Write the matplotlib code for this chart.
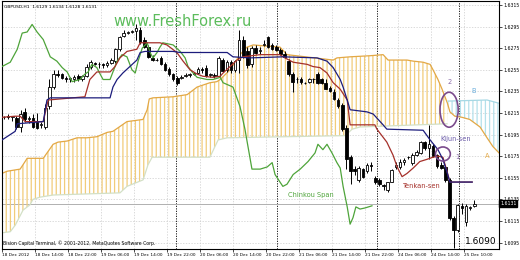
import numpy as np
import matplotlib
matplotlib.use("Agg")
from matplotlib import pyplot as plt
from matplotlib.patches import Ellipse
from matplotlib.transforms import blended_transform_factory

# --- GBPUSD H1 candles (bar index 0 = 18 Dec 2012) ---
opens = [1.6211, 1.6212, 1.6211, 1.6210, 1.6202, 1.6216, 1.6209, 1.6210, 1.6207, 1.6204,
         1.6202, 1.6221, 1.6239, 1.6251, 1.6251, 1.6247, 1.6246, 1.6246, 1.6249, 1.6246,
         1.6249, 1.6258, 1.6261, 1.6260, 1.6260, 1.6259, 1.6261, 1.6263, 1.6274, 1.6286,
         1.6289, 1.6290, 1.6291, 1.6292, 1.6283, 1.6276, 1.6266, 1.6264, 1.6266, 1.6260,
         1.6256, 1.6251, 1.6247, 1.6247, 1.6249, 1.6250, 1.6251, 1.6252, 1.6256, 1.6257,
         1.6250, 1.6250, 1.6249, 1.6264, 1.6255, 1.6262, 1.6255, 1.6264, 1.6283, 1.6272,
         1.6260, 1.6275, 1.6272, 1.6278, 1.6285, 1.6278, 1.6276, 1.6273, 1.6270, 1.6263,
         1.6251, 1.6246, 1.6246, 1.6243, 1.6244, 1.6246, 1.6251, 1.6246, 1.6243, 1.6238,
         1.6234, 1.6227, 1.6222, 1.6201, 1.6174, 1.6163, 1.6153, 1.6163, 1.6161, 1.6167,
         1.6155, 1.6153, 1.6148, 1.6144, 1.6151, 1.6165, 1.6165, 1.6170, 1.6174, 1.6169,
         1.6176, 1.6178, 1.6188, 1.6183, 1.6184, 1.6176, 1.6167, 1.6165, 1.6153, 1.6118,
         1.6107, 1.6129, 1.6114, 1.6127, 1.6129]
highs = [1.6212, 1.6214, 1.6212, 1.6212, 1.6218, 1.6220, 1.6212, 1.6214, 1.6215, 1.6207,
         1.6223, 1.6246, 1.6255, 1.6255, 1.6252, 1.6249, 1.6248, 1.6250, 1.6251, 1.6250,
         1.6260, 1.6264, 1.6262, 1.6262, 1.6261, 1.6263, 1.6266, 1.6275, 1.6286, 1.6292,
         1.6291, 1.6292, 1.6297, 1.6295, 1.6285, 1.6278, 1.6269, 1.6266, 1.6268, 1.6262,
         1.6258, 1.6252, 1.6249, 1.6250, 1.6252, 1.6252, 1.6253, 1.6258, 1.6258, 1.6259,
         1.6252, 1.6252, 1.6268, 1.6266, 1.6264, 1.6264, 1.6264, 1.6292, 1.6286, 1.6276,
         1.6277, 1.6278, 1.6276, 1.6283, 1.6286, 1.6280, 1.6278, 1.6275, 1.6272, 1.6265,
         1.6253, 1.6248, 1.6248, 1.6244, 1.6247, 1.6247, 1.6253, 1.6247, 1.6246, 1.6240,
         1.6237, 1.6229, 1.6224, 1.6204, 1.6176, 1.6166, 1.6166, 1.6164, 1.6169, 1.6170,
         1.6157, 1.6155, 1.6149, 1.6151, 1.6163, 1.6170, 1.6172, 1.6173, 1.6175, 1.6178,
         1.6181, 1.6189, 1.6189, 1.6204, 1.6186, 1.6177, 1.6170, 1.6167, 1.6155, 1.6120,
         1.6131, 1.6132, 1.6131, 1.6129, 1.6134]
lows = [1.6209, 1.6209, 1.6208, 1.6200, 1.6197, 1.6207, 1.6206, 1.6201, 1.6200, 1.6201,
        1.6200, 1.6219, 1.6237, 1.6248, 1.6246, 1.6244, 1.6244, 1.6244, 1.6245, 1.6245,
        1.6248, 1.6256, 1.6259, 1.6257, 1.6257, 1.6258, 1.6260, 1.6261, 1.6272, 1.6285,
        1.6288, 1.6289, 1.6283, 1.6279, 1.6275, 1.6266, 1.6263, 1.6263, 1.6259, 1.6254,
        1.6249, 1.6245, 1.6241, 1.6246, 1.6248, 1.6248, 1.6250, 1.6251, 1.6252, 1.6248,
        1.6248, 1.6247, 1.6248, 1.6253, 1.6253, 1.6252, 1.6253, 1.6252, 1.6266, 1.6257,
        1.6258, 1.6270, 1.6270, 1.6277, 1.6275, 1.6273, 1.6272, 1.6269, 1.6266, 1.6249,
        1.6234, 1.6243, 1.6242, 1.6242, 1.6243, 1.6243, 1.6242, 1.6242, 1.6237, 1.6234,
        1.6227, 1.6220, 1.6198, 1.6163, 1.6149, 1.6158, 1.6151, 1.6155, 1.6159, 1.6161,
        1.6149, 1.6147, 1.6144, 1.6142, 1.6151, 1.6163, 1.6163, 1.6167, 1.6172, 1.6167,
        1.6175, 1.6177, 1.6181, 1.6172, 1.6174, 1.6164, 1.6163, 1.6151, 1.6116, 1.6090,
        1.6105, 1.6121, 1.6110, 1.6125, 1.6128]
closes = [1.6211, 1.6211, 1.6212, 1.6202, 1.6214, 1.6209, 1.6210, 1.6202, 1.6201, 1.6205,
          1.6220, 1.6239, 1.6251, 1.6250, 1.6247, 1.6246, 1.6247, 1.6248, 1.6246, 1.6249,
          1.6258, 1.6262, 1.6260, 1.6260, 1.6259, 1.6261, 1.6264, 1.6274, 1.6285, 1.6289,
          1.6290, 1.6291, 1.6294, 1.6281, 1.6276, 1.6267, 1.6264, 1.6264, 1.6260, 1.6255,
          1.6251, 1.6246, 1.6243, 1.6248, 1.6250, 1.6251, 1.6252, 1.6256, 1.6255, 1.6249,
          1.6251, 1.6249, 1.6266, 1.6254, 1.6262, 1.6255, 1.6263, 1.6283, 1.6268, 1.6259,
          1.6275, 1.6271, 1.6273, 1.6279, 1.6276, 1.6274, 1.6273, 1.6270, 1.6267, 1.6251,
          1.6244, 1.6246, 1.6244, 1.6243, 1.6246, 1.6246, 1.6243, 1.6243, 1.6237, 1.6235,
          1.6228, 1.6221, 1.6200, 1.6172, 1.6161, 1.6161, 1.6164, 1.6156, 1.6167, 1.6166,
          1.6151, 1.6149, 1.6147, 1.6151, 1.6162, 1.6167, 1.6170, 1.6171, 1.6174, 1.6176,
          1.6179, 1.6188, 1.6183, 1.6186, 1.6175, 1.6166, 1.6164, 1.6153, 1.6118, 1.6107,
          1.6130, 1.6127, 1.6129, 1.6128, 1.6131]

# --- Ichimoku lines, read as (bar, price) vertices ---
tenkan_x = [-0.5, 2.7, 3.9, 5.1, 9.5, 10.7, 19.6, 20.8, 22.5, 25.7, 26.9, 28.1, 29.8, 32.2,
            33.0, 37.8, 39.5, 41.9, 43.4, 45.1, 46.8, 48.2, 50.7, 52.4, 53.1, 54.8, 56.5,
            57.9, 62.1, 66.9, 68.1, 70.1, 73.5, 74.9, 76.6, 78.3, 79.8, 81.5, 83.2, 83.9,
            89.9, 90.4, 92.8, 94.3, 95.3, 96.5, 97.7, 99.2, 100.8, 102.5, 104.0, 105.2,
            106.4, 107.4, 108.1, 113.5]
tenkan = [1.6211, 1.6212, 1.6212, 1.6207, 1.6207, 1.6227, 1.6230, 1.6246, 1.6253, 1.6253,
          1.6258, 1.6266, 1.6272, 1.6274, 1.6280, 1.6280, 1.6278, 1.6271, 1.6263, 1.6255,
          1.6251, 1.6249, 1.6248, 1.6249, 1.6252, 1.6258, 1.6264, 1.6267, 1.6269, 1.6269,
          1.6266, 1.6262, 1.6260, 1.6258, 1.6257, 1.6252, 1.6243, 1.6237, 1.6227, 1.6204,
          1.6204, 1.6200, 1.6188, 1.6176, 1.6165, 1.6156, 1.6159, 1.6164, 1.6170, 1.6172,
          1.6174, 1.6175, 1.6174, 1.6161, 1.6151, 1.6151]

kijun_x = [-0.5, 1.5, 2.7, 3.2, 9.5, 10.4, 11.2, 25.7, 26.4, 27.4, 28.8, 30.5, 32.2, 33.0,
           34.2, 41.0, 42.7, 54.1, 55.5, 59.6, 67.6, 75.9, 78.3, 79.8, 81.5, 82.2, 83.2,
           83.9, 88.0, 89.5, 90.7, 91.9, 92.8, 101.6, 103.3, 105.2, 106.4, 107.4, 108.1, 113.5]
kijun = [1.6190, 1.6195, 1.6198, 1.6205, 1.6207, 1.6227, 1.6229, 1.6229, 1.6239, 1.6246,
         1.6252, 1.6258, 1.6264, 1.6271, 1.6272, 1.6272, 1.6271, 1.6271, 1.6267, 1.6266,
         1.6267, 1.6266, 1.6263, 1.6257, 1.6246, 1.6239, 1.6227, 1.6218, 1.6216, 1.6214,
         1.6209, 1.6204, 1.6200, 1.6199, 1.6190, 1.6181, 1.6172, 1.6160, 1.6151, 1.6151]

chikou_x = [-0.5, 1.5, 3.2, 4.4, 5.6, 6.8, 8.0, 9.5, 11.2, 12.8, 14.1, 15.3, 16.5, 18.4,
            19.6, 20.4, 21.3, 22.5, 23.3, 24.0, 25.7, 26.4, 27.4, 28.6, 29.8, 31.0, 31.8,
            32.5, 33.5, 34.7, 35.4, 36.1, 37.1, 37.8, 38.5, 41.0, 42.7, 43.9, 44.6, 45.6,
            46.8, 49.2, 50.7, 52.4, 53.1, 55.5, 57.2, 58.4, 60.1, 62.1, 63.8, 65.0, 65.7,
            66.9, 67.6, 68.6, 70.1, 71.8, 73.7, 75.4, 76.1, 77.3, 78.3, 79.5, 80.7, 81.5,
            82.2, 83.2, 83.9, 84.6, 85.3, 86.3, 87.5, 89.2]
chikou = [1.6258, 1.6262, 1.6274, 1.6289, 1.6290, 1.6297, 1.6290, 1.6283, 1.6267, 1.6263,
          1.6257, 1.6253, 1.6244, 1.6246, 1.6251, 1.6253, 1.6260, 1.6257, 1.6251, 1.6246,
          1.6246, 1.6253, 1.6263, 1.6269, 1.6267, 1.6255, 1.6252, 1.6263, 1.6275, 1.6280,
          1.6271, 1.6266, 1.6271, 1.6276, 1.6280, 1.6278, 1.6272, 1.6266, 1.6258, 1.6253,
          1.6248, 1.6246, 1.6246, 1.6248, 1.6243, 1.6239, 1.6221, 1.6200, 1.6163, 1.6163,
          1.6165, 1.6169, 1.6158, 1.6151, 1.6147, 1.6149, 1.6158, 1.6163, 1.6170, 1.6178,
          1.6186, 1.6181, 1.6186, 1.6178, 1.6169, 1.6164, 1.6147, 1.6128, 1.6112, 1.6118,
          1.6128, 1.6126, 1.6127, 1.6129]

span_a_x = [-0.5, 0.7, 3.9, 5.1, 5.6, 9.5, 11.9, 13.1, 15.3, 17.7, 20.1, 22.5, 25.0, 26.4,
            29.8, 33.7, 34.7, 35.2, 36.1, 41.0, 44.4, 46.8, 49.9, 51.6, 52.4, 54.8, 57.2,
            58.9, 60.4, 66.9, 68.6, 79.8, 80.7, 83.9, 88.7, 91.9, 93.1, 97.7, 99.2, 101.6,
            103.3, 104.0, 105.2, 106.2, 107.5, 108.1, 109.3, 111.0, 112.9, 115.4, 117.1,
            118.5, 120.0]
span_a = [1.6159, 1.6161, 1.6163, 1.6170, 1.6173, 1.6173, 1.6186, 1.6188, 1.6189, 1.6192,
          1.6192, 1.6193, 1.6197, 1.6198, 1.6207, 1.6209, 1.6218, 1.6228, 1.6229, 1.6230,
          1.6232, 1.6239, 1.6243, 1.6244, 1.6246, 1.6255, 1.6269, 1.6276, 1.6278, 1.6276,
          1.6269, 1.6264, 1.6266, 1.6267, 1.6268, 1.6269, 1.6264, 1.6264, 1.6263, 1.6262,
          1.6260, 1.6255, 1.6246, 1.6237, 1.6224, 1.6216, 1.6212, 1.6211, 1.6209, 1.6202,
          1.6192, 1.6184, 1.6178]

span_b_x = [-0.5, 1.5, 2.7, 4.6, 6.3, 7.0, 8.7, 11.9, 28.1, 29.8, 33.7, 34.9, 35.9, 49.9,
            51.9, 54.1, 82.7, 84.4, 86.3, 107.4, 107.6, 117.1, 120.0]
span_b = [1.6104, 1.6105, 1.6111, 1.6125, 1.6130, 1.6135, 1.6137, 1.6139, 1.6141, 1.6147,
          1.6153, 1.6167, 1.6174, 1.6174, 1.6190, 1.6192, 1.6194, 1.6200, 1.6202, 1.6205,
          1.6226, 1.6227, 1.6224]
kumo_twist = 107.5

price_ticks = [1.6095, 1.6115, 1.6135, 1.6155, 1.6175, 1.6195, 1.6215, 1.6235,
               1.6255, 1.6275, 1.6295, 1.6315]
time_ticks = [0, 8, 16, 24, 32, 40, 48, 56, 64, 72, 80, 88, 96, 104, 112]
time_labels = ["18 Dec 2012", "18 Dec 14:00", "18 Dec 22:00", "19 Dec 06:00",
               "19 Dec 14:00", "19 Dec 22:00", "20 Dec 06:00", "20 Dec 14:00",
               "20 Dec 22:00", "21 Dec 06:00", "21 Dec 14:00", "21 Dec 22:00",
               "24 Dec 06:00", "24 Dec 14:00", "25 Dec 10:00"]
day_separators = [41.7, 66.2, 90.4, 110.3]
last_price = 1.6131
session_low = 1.6090

plt.rcParams['hatch.linewidth'] = 0.9

fig = plt.figure(figsize=(5.2, 2.6), dpi=100)
ax = fig.add_axes([2 / 520, 11 / 260, 497 / 520, 248 / 260])
ax.set_xlim(-0.5, 120)
ax.set_ylim(1.6089, 1.63187)

# grid + separators
for p in price_ticks:
    ax.axhline(p, color='#cccccc', lw=0.5, ls=(0, (2, 2)), zorder=0)
for t in time_ticks:
    ax.axvline(t - 0.5, color='#cccccc', lw=0.5, ls=(0, (2, 2)), zorder=0)
for s in day_separators:
    ax.axvline(s, color='black', lw=0.6, ls=(0, (1.5, 1.5)), zorder=0.5)

# kumo
ax_arr, ay_arr = np.array(span_a_x), np.array(span_a)
bx_arr, by_arr = np.array(span_b_x), np.array(span_b)
ma, mb = ax_arr <= kumo_twist, bx_arr <= kumo_twist
ax.fill(np.r_[ax_arr[ma], bx_arr[mb][::-1]], np.r_[ay_arr[ma], by_arr[mb][::-1]],
        facecolor='none', edgecolor='#f1cc7a', hatch='||||', linewidth=0, zorder=1)
ma, mb = ax_arr >= kumo_twist, bx_arr >= kumo_twist
ax.fill(np.r_[ax_arr[ma], bx_arr[mb][::-1]], np.r_[ay_arr[ma], by_arr[mb][::-1]],
        facecolor='none', edgecolor='#b4e0ea', hatch='||||', linewidth=0, zorder=1)
ax.plot(span_a_x, span_a, color='#e3a845', lw=0.9, zorder=2)
ax.plot(span_b_x[:20], span_b[:20], color='#d3e0c6', lw=0.9, zorder=2)
ax.plot(span_b_x[20:], span_b[20:], color='#a6d8e4', lw=0.9, zorder=2)

# candles
x = np.arange(len(opens))
o, h, l, c = map(np.array, (opens, highs, lows, closes))
ax.vlines(x, l, h, color='black', lw=0.7, zorder=4)
ax.bar(x, np.abs(c - o), bottom=np.minimum(o, c), width=0.62,
       color=np.where(c >= o, 'white', 'black'), edgecolor='black', linewidth=0.6, zorder=5)

# lines
ax.plot(chikou_x, chikou, color='#4ea43a', lw=0.9, zorder=6)
ax.plot(tenkan_x, tenkan, color='#a5302a', lw=0.9, zorder=6)
ax.plot(kijun_x, kijun, color='#1c1c7c', lw=0.9, zorder=6)
ax.axhline(last_price, color='#b0b0b0', lw=0.7, zorder=0.6)

# axes
ax.yaxis.tick_right()
ax.set_yticks(price_ticks)
ax.set_yticklabels(["%.4f" % p for p in price_ticks], fontsize=3.3)
ax.set_xticks([t - 0.5 for t in time_ticks])
ax.set_xticklabels(time_labels, fontsize=3.1, ha='left')
ax.tick_params(length=2, width=0.5, pad=1)
for sp in ax.spines.values():
    sp.set_linewidth(0.8)

tr = blended_transform_factory(ax.transAxes, ax.transData)
ax.text(1.002, last_price, "1.6131", transform=tr, fontsize=3.3, color='white', va='center',
        ha='left', bbox=dict(boxstyle='square,pad=0.15', fc='black', ec='black'), zorder=10)

# texts
ax.text(0.004, 0.985, "GBPUSD,H1  1.6129 1.6134 1.6128 1.6131", transform=ax.transAxes,
        fontsize=3.2, va='top', ha='left')
ax.text(0.002, 0.012, "Bision Capital Terminal, \u00a9 2001-2012, MetaQuotes Software Corp.",
        transform=ax.transAxes, fontsize=3.3, va='bottom', ha='left')
ax.text(26.4, 1.6300, "www.FreshForex.ru", fontsize=10.5, color='#5cbc5c', va='center',
        ha='left', zorder=3)
ax.text(74.4, 1.6139, "Chinkou Span", fontsize=4.8, color='#4ea43a', ha='center', va='center')
ax.text(101.3, 1.6147, "Tenkan-sen", fontsize=4.8, color='#a5302a', ha='center', va='center')
ax.text(109.6, 1.6191, "Kijun-sen", fontsize=4.8, color='#6a5aa8', ha='center', va='center',
        zorder=8)
ax.text(108.1, 1.6244, "2", fontsize=4.8, color='#8a6aa8', ha='center', va='center')
ax.text(113.9, 1.6235, "B", fontsize=4.8, color='#6aaedc', ha='center', va='center')
ax.text(109.8, 1.6174, "1", fontsize=4.8, color='#8a6aa8', ha='center', va='center')
ax.text(117.1, 1.6175, "A", fontsize=4.8, color='#e3a845', ha='center', va='center')
ax.text(119.3, 1.6096, "%.4f" % session_low, fontsize=6.5, ha='right', va='center', zorder=8)
ax.add_patch(Ellipse((107.9, 1.6218), 4.4, 0.00324, fill=False, ec='#7a4a8c', lw=1.2, zorder=8))
ax.add_patch(Ellipse((106.4, 1.6177), 3.6, 0.0013, fill=False, ec='#7a4a8c', lw=1.2, zorder=8))

fig.savefig("out.png", dpi=100)
